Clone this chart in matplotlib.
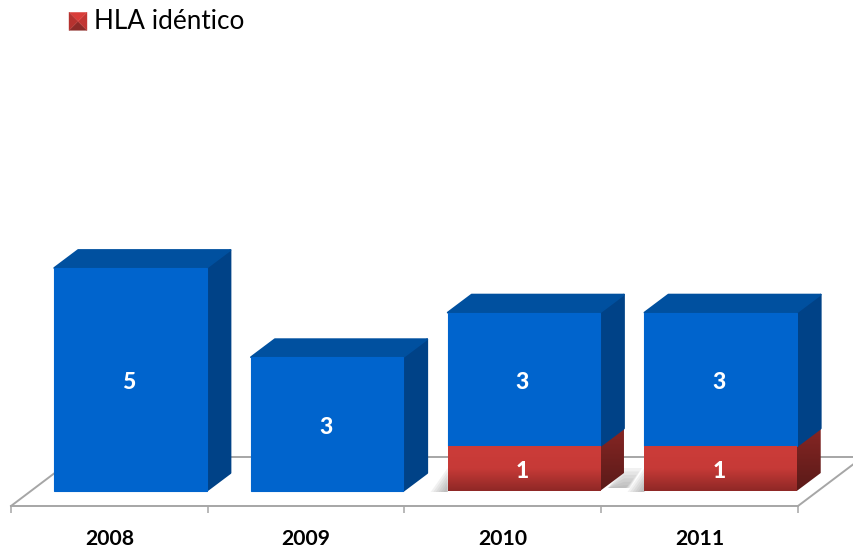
import numpy as np
import matplotlib
matplotlib.use('Agg')
import matplotlib.pyplot as plt
from matplotlib.colors import LinearSegmentedColormap
from matplotlib.patches import Polygon, Patch
from matplotlib.legend_handler import HandlerBase

plt.rcParams['font.family'] = ['Lato', 'DejaVu Sans']

years = ['2008', '2009', '2010', '2011']
otros = [5, 3, 3, 3]
hla_identico = [0, 0, 1, 1]
legend_label = 'HLA idéntico'

W, H = 854, 548
PX_X = 197.0   # pixels per category
PX_Y = 44.6    # pixels per unit

bar_w = 152.5 / PX_X
shift = 21 / PX_X
dx, dy = 24 / PX_X, 18 / PX_Y
floor_y = -15 / PX_Y
floor_dx, floor_dy = 65 / PX_X, 49 / PX_Y

GREY = '#a6a6a6'


class PyramidHandler(HandlerBase):
    # small bevelled square, as in the office legend
    def create_artists(self, legend, orig, xd, yd, width, height, fontsize, trans):
        s = 13
        x0, y0 = -xd + 0.7, -yd - 1
        m = (x0 + s / 2, y0 + s / 2)
        a, b, c, d = (x0, y0), (x0 + s, y0), (x0 + s, y0 + s), (x0, y0 + s)
        arts = []
        for pts, col in [((a, b, m), '#8c2a28'), ((b, c, m), '#c23633'),
                         ((c, d, m), '#d93d39'), ((d, a, m), '#b5322f')]:
            arts.append(Polygon(pts, closed=True, fc=col, ec=col, lw=0.2, transform=trans))
        return arts


fig = plt.figure(figsize=(W / 100, H / 100), dpi=100)
ax = fig.add_axes([11 / W, (H - 506) / H, (798 - 11) / W, 506 / H])
ax.set_xlim(-0.5, 3.5)
ax.set_ylim(floor_y, floor_y + 506 / PX_Y)

for s in ['top', 'left', 'right']:
    ax.spines[s].set_visible(False)
ax.spines['bottom'].set_color(GREY)
ax.spines['bottom'].set_linewidth(1.4)
ax.set_yticks([])
ax.set_xticks(range(len(years)))
ax.set_xticklabels(years, fontsize=15.2, fontweight='bold', color='black')
ax.set_xticks(np.arange(-0.5, 4, 1), minor=True)
ax.tick_params(axis='x', which='major', length=0, pad=16.5)
ax.tick_params(axis='x', which='minor', length=5, width=1.1, color=GREY)

# floor
x_l, x_r = -0.5, 3.5
ax.plot([x_l, x_l + floor_dx, x_r + floor_dx, x_r],
        [floor_y, floor_y + floor_dy, floor_y + floor_dy, floor_y],
        color=GREY, lw=1.4, clip_on=False, zorder=1)

x = np.arange(len(years)) + shift
red_grad = np.linspace(0, 1, 64).reshape(-1, 1)
side_cmap = LinearSegmentedColormap.from_list('rs', ['#862624', '#5a1a18'])
front_cmap = LinearSegmentedColormap.from_list('rf', ['#cc3c39', '#c63a37', '#8f2826'])


def face(pts, col, z):
    ax.add_patch(Polygon(pts, closed=True, fc=col, ec=col, lw=1.3, joinstyle='round',
                         clip_on=False, zorder=z))


for i in range(len(years)):
    left, right = x[i] - bar_w / 2, x[i] + bar_w / 2
    red, blue = hla_identico[i], otros[i]
    total = red + blue
    z = 3 + i

    # soft shadow under bars that have the red segment
    if red > 0:
        for k in [1.0, 0.85, 0.7, 0.55, 0.4, 0.25]:
            ax.add_patch(Polygon([(left - 17 / PX_X * k, -1 / PX_Y), (left, 23 / PX_Y * k), (left, -1 / PX_Y)],
                                 closed=True, fc='#7f7f7f', ec='none', alpha=0.1, zorder=2))
            ax.add_patch(Polygon([(right + 8 / PX_X, 3 / PX_Y), (right + dx, 23 / PX_Y * k),
                                  (right + dx + 18 / PX_X * k, 23 / PX_Y * k), (right + dx + 6 / PX_X * k, 3 / PX_Y)],
                                 closed=True, fc='#7f7f7f', ec='none', alpha=0.1, zorder=2))

    # sides
    if red > 0:
        im = ax.imshow(red_grad, cmap=side_cmap, origin='upper', aspect='auto',
                       extent=(right, right + dx, 0, red + dy), zorder=z)
        im.set_clip_path(Polygon([(right, 0), (right + dx, dy), (right + dx, red + dy), (right, red)],
                                 closed=True, transform=ax.transData))
        im.set_clip_box(fig.bbox)
    face([(right, red), (right + dx, red + dy), (right + dx, total + dy), (right, total)], '#004287', z)
    # top
    face([(left, total), (left + dx, total + dy), (right + dx, total + dy), (right, total)], '#00509f', z)

    # front faces
    ax.bar(x[i], blue, bar_w, bottom=red, color='#0064cd', edgecolor='#0064cd',
           linewidth=0.8, zorder=z + 0.2)
    if red > 0:
        red_bar = ax.bar(x[i], red, bar_w, color='none', zorder=z + 0.2)
        im = ax.imshow(red_grad, cmap=front_cmap, origin='upper', aspect='auto',
                       extent=(left, right, 0, red), zorder=z + 0.2)
        im.set_clip_path(red_bar[0])
        ax.text(x[i] - 0.008, red / 2 - 3 / PX_Y, str(red), ha='center', va='center', color='white',
                fontsize=16.5, fontweight='black', zorder=z + 1)
    ax.text(x[i] - 0.008, red + blue / 2 - 3 / PX_Y, str(blue), ha='center', va='center', color='white',
            fontsize=16.5, fontweight='black', zorder=z + 1)

# imshow resets the limits
ax.set_xlim(-0.5, 3.5)
ax.set_ylim(floor_y, floor_y + 506 / PX_Y)

handle = Patch(label=legend_label)
fig.legend(handles=[handle], labels=[legend_label], handler_map={Patch: PyramidHandler()},
           loc='upper left', bbox_to_anchor=(68 / W, 1 - 9 / H), frameon=False, fontsize=18.8,
           handlelength=0.7, handleheight=0.7, handletextpad=0.28, borderpad=0, borderaxespad=0)

plt.savefig('out.png', dpi=100)
